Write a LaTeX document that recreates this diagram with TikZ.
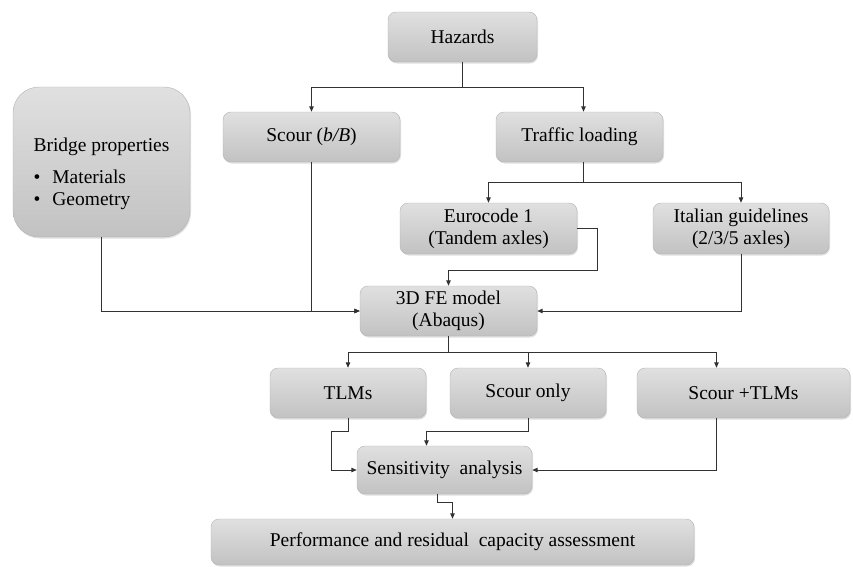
\documentclass[tikz,border=0pt]{standalone}
\usepackage{fontspec}
\setmainfont{Liberation Serif}
\usepackage{tikz}
\usetikzlibrary{positioning, shadows, arrows.meta, calc}
\definecolor{boxtop}{RGB}{224,224,224}
\definecolor{boxbot}{RGB}{194,194,194}
\definecolor{boxline}{RGB}{178,178,178}
\definecolor{wire}{RGB}{50,50,50}
\tikzstyle{blk}=[%
      rectangle, rounded corners=8pt, draw=boxline, thin, top color=boxtop, bottom color=boxbot,
      drop shadow={shadow xshift=1pt, shadow yshift=-1.5pt, opacity=0.25, fill=gray},
      align=center, inner sep=0pt, font=\fontsize{19.5}{22}\selectfont
]
\tikzstyle{wr}=[draw=wire, line width=1pt]

\begin{document}
\begin{tikzpicture}[x=1pt, y=-1pt,
    >={Triangle[length=5.5pt,width=4.5pt]}
  ]
    \useasboundingbox (0,0) rectangle (853,566);
    \node[blk, minimum width=149pt, minimum height=50pt] (hz) at (462.5,37) {Hazards};
    \node[blk, rounded corners=26pt, minimum width=177pt, minimum height=150pt, align=left] (bp) at (101.5,162)
        {\\[16pt]Bridge properties\\[10pt]\textbullet\hspace{12pt}Materials\\\textbullet\hspace{12pt}Geometry};
    \node[blk, minimum width=177pt, minimum height=50pt] (sc) at (311.5,137) {Scour (\textit{b/B})};
    \node[blk, minimum width=167pt, minimum height=50pt] (trf) at (579.5,137) {Traffic loading};
    \node[blk, minimum width=177pt, minimum height=51pt] (eu) at (488.5,228.5) {Eurocode 1\\(Tandem axles)};
    \node[blk, minimum width=176pt, minimum height=51pt] (it) at (741,228.5) {Italian guidelines\\(2/3/5 axles)};
    \node[blk, minimum width=177pt, minimum height=50pt] (fe) at (448.5,311) {3D FE model\\(Abaqus)};
    \node[blk, minimum width=156pt, minimum height=50pt] (tlm) at (348,393) {TLMs};
    \node[blk, minimum width=156pt, minimum height=50pt] (so) at (528,393) {Scour only};
    \node[blk, minimum width=213pt, minimum height=50pt] (st) at (743.5,393) {Scour +TLMs};
    \node[blk, minimum width=175pt, minimum height=48pt] (sa) at (444.5,470) {Sensitivity\ \ analysis};
    \node[blk, minimum width=483pt, minimum height=46pt] (pf) at (452.5,542) {Performance and residual\ \ capacity assessment};

    % hazards
    \draw[wr] (hz.south) -- ++(0,25) coordinate (hzj);
    \draw[wr, ->] (hzj) -| (sc.north);
    \draw[wr, ->] (hzj) -| ([xshift=4pt]trf.north);
    % traffic
    \draw[wr] ([xshift=4pt]trf.south) -- ++(0,20) coordinate (trj);
    \draw[wr, ->] (trj) -| (eu.north);
    \draw[wr, ->] (trj) -| (it.north);
    % into the model
    \draw[wr, ->] (eu.east) -- ++(20,0) coordinate (euj)
          -- (euj |- {$(eu.south)!0.5!(fe.north)$}) -| (fe.north);
    \draw[wr, ->] (it.south) |- (fe.east);
    \draw[wr, ->] (bp.south) |- (fe.west);
    \draw[wr, ->] (sc.south) |- (fe.west);
    % cases
    \draw[wr] (fe.south) -- ++(0,16) coordinate (fej);
    \draw[wr, ->] (fej) -| (tlm.north);
    \draw[wr, ->] (fej) -| (so.north);
    \draw[wr, ->] (fej) -| ([xshift=-27pt]st.north);
    % sensitivity
    \draw[wr, ->] (tlm.south) -- ++(0,13) -- ++(-17,0) |- (sa.west);
    \draw[wr, ->] (so.south) -- ++(0,13) -| ([xshift=-18pt]sa.north);
    \draw[wr, ->] ([xshift=-27pt]st.south) |- (sa.east);
    \draw[wr, ->] ([xshift=-7pt]sa.south) -- ++(0,8) -| (pf.north);
  \end{tikzpicture}
\end{document}
